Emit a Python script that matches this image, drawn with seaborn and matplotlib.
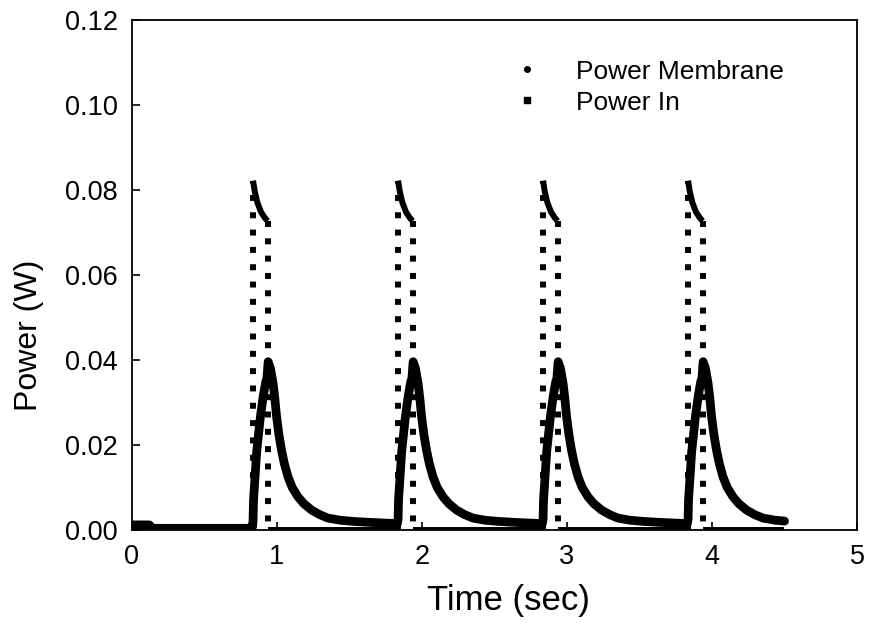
import numpy as np
import pandas as pd
import matplotlib
matplotlib.use("Agg")
import matplotlib.pyplot as plt
from matplotlib.lines import Line2D
import seaborn as sns

# ---------------- data ----------------
pulse_on = [0.835, 1.835, 2.835, 3.835]   # onset of each input pulse (s)
pulse_off = [0.935, 1.935, 2.935, 3.935]  # end of each input pulse (s)
t_end = 4.5

# Power In during a pulse: time after onset (s) and value (W)
pin_tau = [0.0, 0.012, 0.03, 0.055, 0.08, 0.10]
pin_val = [0.0822, 0.0796, 0.0770, 0.0748, 0.0735, 0.0727]
# Power In shown at the very start
pin_start_t = [0.0, 0.12]
pin_start_val = [0.0, 0.0]

# Power Membrane before the first pulse
mem_pre_t = [0.0, 0.12, 0.14, 0.80, 0.832]
mem_pre_val = [0.0012, 0.0012, 0.0004, 0.0004, 0.0008]
# Power Membrane response after each onset: time after onset (s) and value (W)
mem_tau = [0.0, 0.003, 0.025, 0.05, 0.07, 0.088, 0.095, 0.104, 0.12, 0.138,
           0.15, 0.162, 0.178, 0.196, 0.215, 0.241, 0.27, 0.31, 0.35, 0.403,
           0.46, 0.517, 0.60, 0.665, 0.70, 0.80, 0.93, 0.995]
mem_val = [0.0025, 0.0070, 0.0185, 0.0265, 0.0315, 0.0350, 0.0355, 0.0396, 0.0380, 0.0345,
           0.0310, 0.0267, 0.0225, 0.0188, 0.0157, 0.0125, 0.0100, 0.0078, 0.0062, 0.0047,
           0.0036, 0.0028, 0.0023, 0.0021, 0.0020, 0.0018, 0.0016, 0.0015]

x_ticks = [0, 1, 2, 3, 4, 5]
y_ticks = [0.0, 0.02, 0.04, 0.06, 0.08, 0.10, 0.12]
y_tick_labels = ["0.00", "0.02", "0.04", "0.06", "0.08", "0.10", "0.12"]
series_names = ["Power Membrane", "Power In"]

# ---------------- build tables ----------------
mem_rows = [(t, v) for t, v in zip(mem_pre_t, mem_pre_val)]
for on in pulse_on:
    for tau, v in zip(mem_tau, mem_val):
        if on + tau <= t_end + 1e-9:
            mem_rows.append((on + tau, v))
df_mem = pd.DataFrame(mem_rows, columns=["t", "p"])

pin_rows = []
seg = 0
for t, v in zip(pin_start_t, pin_start_val):
    pin_rows.append((seg, t, v))
jumps = []
for k, (on, off) in enumerate(zip(pulse_on, pulse_off)):
    seg += 1
    for tau, v in zip(pin_tau, pin_val):
        pin_rows.append((seg, on + tau, v))
    jumps.append((on, 0.0, pin_val[0]))
    jumps.append((off, pin_val[-1], 0.0))
    seg += 1
    nxt = pulse_on[k + 1] if k + 1 < len(pulse_on) else t_end
    pin_rows.append((seg, off, 0.0))
    pin_rows.append((seg, nxt, 0.0))
df_in = pd.DataFrame(pin_rows, columns=["seg", "t", "p"])

# ---------------- plot ----------------
sns.set_style("white")
plt.rcParams["font.family"] = ["Liberation Sans", "DejaVu Sans"]
plt.rcParams["text.color"] = "black"
plt.rcParams["axes.labelcolor"] = "black"
plt.rcParams["xtick.color"] = "black"
plt.rcParams["ytick.color"] = "black"

fig = plt.figure(figsize=(8.7, 6.3), dpi=100)
ax = fig.add_axes([132 / 870, 100 / 630, 725 / 870, 510 / 630])

sns.lineplot(data=df_in, x="t", y="p", units="seg", estimator=None, sort=False,
             color="black", lw=4.3, ax=ax, legend=False, solid_capstyle="butt")
for t, a, b in jumps:
    ax.plot([t, t], [a, b], color="black", lw=4.3, linestyle=(0, (1, 1.9)),
            dash_capstyle="butt")

sns.lineplot(data=df_mem, x="t", y="p", estimator=None, sort=False,
             color="black", lw=6.3, ax=ax, legend=False,
             solid_capstyle="round", solid_joinstyle="round")

ax.set_xlim(0, 5)
ax.set_ylim(0, 0.12)
ax.set_xticks(x_ticks)
ax.set_yticks(y_ticks)
ax.set_yticklabels(y_tick_labels)
ax.tick_params(direction="in", length=6, width=1.2, labelsize=19.5, pad=10,
               colors="black", bottom=True, left=True, top=False, right=False)
for s in ax.spines.values():
    s.set_color("black")
    s.set_linewidth(1.3)
ax.set_xlabel("Time (sec)", fontsize=25)
ax.set_ylabel("Power (W)", fontsize=23)
ax.xaxis.set_label_coords(0.519, -0.106)
ax.yaxis.set_label_coords(-0.121, 0.382)

handles = [Line2D([], [], marker="o", ls="none", color="black", markersize=4),
           Line2D([], [], marker="s", ls="none", color="black", markersize=4)]
ax.legend(handles, series_names, loc="upper left",
          bbox_to_anchor=(0.49, 0.948), frameon=False, fontsize=19,
          handletextpad=0.85, labelspacing=0.26, borderpad=0)

fig.savefig("out.png", dpi=100)
